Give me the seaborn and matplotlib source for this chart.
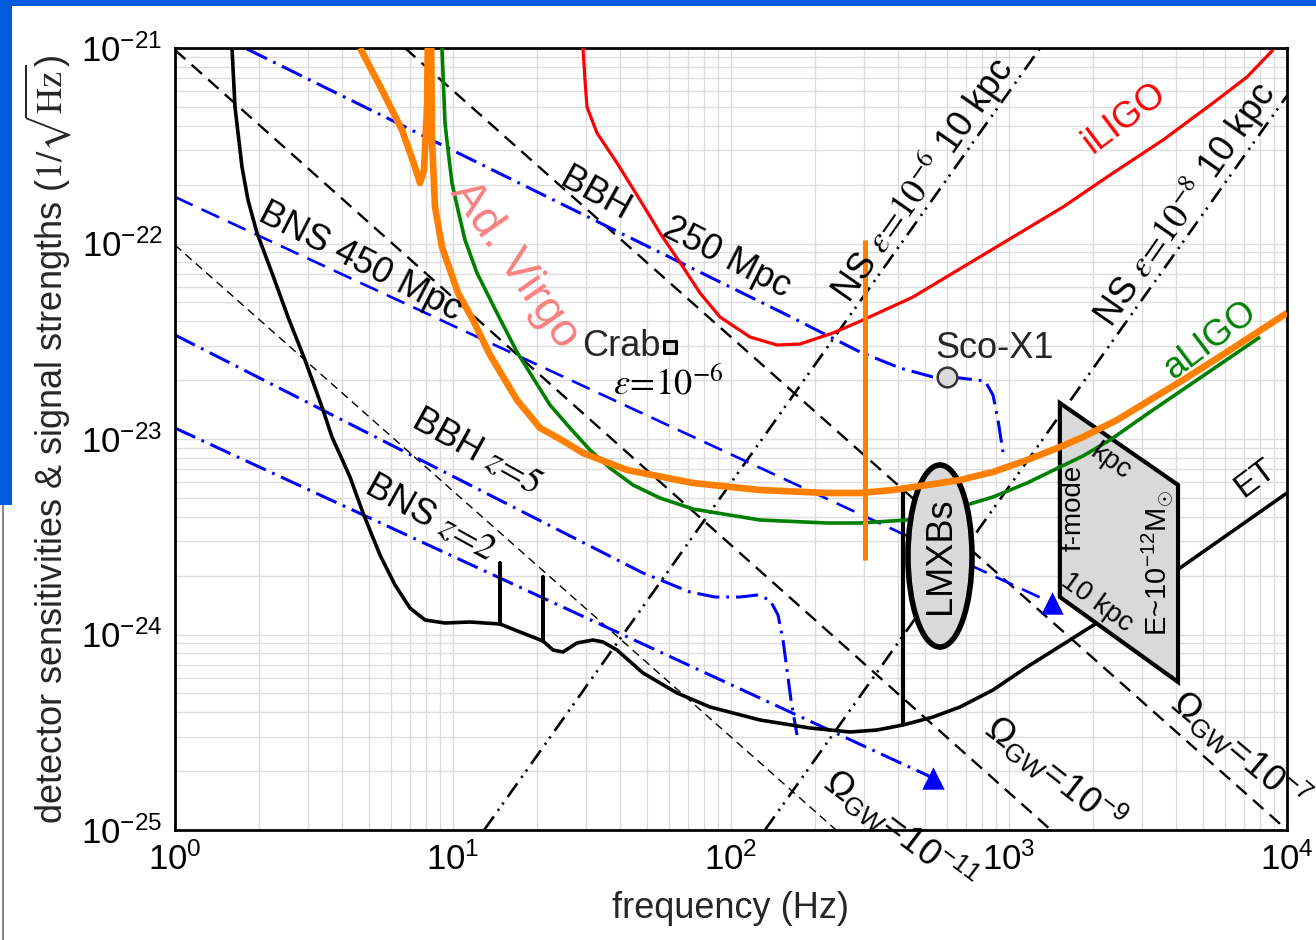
import numpy as np
import pandas as pd
import matplotlib
matplotlib.use("Agg")
import matplotlib.pyplot as plt
import seaborn as sns
from matplotlib.patches import Ellipse, Polygon, Rectangle
from matplotlib.ticker import FixedLocator, NullFormatter

# ---------------- data (log10 of frequency in Hz, log10 of strain) ----------------
et_logf = [0.2050, 0.2158, 0.2410, 0.2626, 0.2950, 0.3489, 0.4065, 0.4676, 0.5288, 0.5647,
           0.6295, 0.6763, 0.7374, 0.7914, 0.8453, 0.8993, 0.9712, 1.0612,
           1.1691, 1.1691, 1.1691, 1.2410, 1.3237, 1.3237, 1.3237, 1.3597, 1.3957, 1.4460,
           1.5036, 1.5396, 1.5899, 1.6835, 1.8058, 1.9245, 2.1043, 2.2842, 2.4281, 2.5252,
           2.6187, 2.7266, 2.8237, 2.9424, 3.0647, 3.2194, 3.3273, 3.6151, 4.0000]
et_logh = [-21.000, -21.3018, -21.6087, -21.7775, -21.9463, -22.1509, -22.3760, -22.5959,
           -22.8363, -22.9898, -23.1944, -23.3785, -23.5934, -23.7468, -23.8645, -23.9258,
           -23.9412, -23.9361, -23.9463, -23.6343, -23.9463, -23.9872, -24.0332, -23.7059,
           -24.0332, -24.0793, -24.0895, -24.0435, -24.0281, -24.0384, -24.0793, -24.1969,
           -24.2992, -24.3708, -24.4373, -24.4783, -24.4987, -24.4885, -24.4629, -24.4220,
           -24.3708, -24.2839, -24.1662, -24.0281, -23.9309, -23.6598, -23.2762]

iligo_logf = [1.4676, 1.4748, 1.4820, 1.5180, 1.5899, 1.6727, 1.7446, 1.8273, 1.8885, 1.9604,
              2.0683, 2.1655, 2.2482, 2.3669, 2.4748, 2.6547, 2.8345, 3.0144, 3.1942, 3.3741,
              3.5540, 3.7338, 3.8561, 3.9496]
iligo_logh = [-21.000, -21.1637, -21.3018, -21.4348, -21.5882, -21.7775, -21.9463, -22.1202,
              -22.2532, -22.3760, -22.4783, -22.5192, -22.5141, -22.4578, -22.3913, -22.2737,
              -22.1202, -21.9668, -21.8133, -21.6394, -21.4706, -21.2813, -21.1483, -21.0102]

aligo_logf = [0.9604, 0.9712, 0.9820, 0.9964, 1.0180, 1.0432, 1.0863, 1.1583, 1.2302, 1.3489,
              1.4209, 1.4928, 1.5647, 1.6475, 1.7446, 1.8633, 2.1043, 2.3453, 2.4640, 2.6331,
              2.8237, 2.9424, 3.0647, 3.1835, 3.2662, 3.3633, 3.5072, 3.6763, 3.9029]
aligo_logh = [-21.000, -21.3836, -21.5217, -21.6905, -21.8286, -21.9821, -22.1509, -22.3555,
              -22.5550, -22.8261, -22.9437, -23.0563, -23.1483, -23.2353, -23.3018, -23.3581,
              -23.4143, -23.4297, -23.4297, -23.4143, -23.3478, -23.2967, -23.2251, -23.1432,
              -23.0870, -23.0051, -22.8619, -22.6982, -22.4783]

virgo_logf = [0.6655, 0.7446, 0.8165, 0.8633, 0.8813, 0.8957, 0.9065, 0.9101, 0.9209, 0.9245,
              0.9353, 0.9604, 1.0180, 1.0719, 1.1331, 1.2302, 1.3129, 1.3849, 1.4676, 1.6259,
              1.8633, 2.1043, 2.3453, 2.4640, 2.5827, 2.7050, 2.8237, 2.9424, 3.0647, 3.1835,
              3.2662, 3.3885, 3.5072, 3.6259, 3.7950, 4.0000]
virgo_logh = [-21.000, -21.2148, -21.4194, -21.6087, -21.6905, -21.6240, -21.3018, -20.9079,
              -20.9079, -21.4706, -21.8133, -22.0179, -22.2532, -22.3913, -22.5703, -22.8005,
              -22.9437, -23.0000, -23.0716, -23.1586, -23.2251, -23.2609, -23.2762, -23.2762,
              -23.2609, -23.2353, -23.2097, -23.1688, -23.1074, -23.0409, -22.9898, -22.9028,
              -22.8005, -22.6982, -22.5448, -22.3555]
virgo_line_logf = [2.482, 2.482]
virgo_line_logh = [-21.982, -23.619]

lmxb_line_logf = [2.619, 2.619]
lmxb_line_logh = [-24.4629, -23.246]

# compact binary signals (blue)
bns450_logf = [0.000, 3.155]
bns450_logh = [-21.762, -23.839]
bbh250_logf = [0.2590, 2.2014, 2.4640, 2.6079, 2.7266, 2.8237, 2.9137, 2.9424, 2.9604, 2.9784]
bbh250_logh = [-21.0051, -22.3657, -22.5550, -22.6368, -22.6829, -22.6880, -22.7033, -22.7749,
               -22.9028, -23.0665]
bbhz5_logf = [0.000, 1.6835, 1.8525, 1.9424, 2.0324, 2.0935, 2.1403, 2.1691, 2.1871, 2.2014,
              2.2158, 2.2374]
bbhz5_logh = [-22.4680, -23.6854, -23.7826, -23.8082, -23.8082, -23.7980, -23.8235, -23.9003,
              -24.0281, -24.1816, -24.3350, -24.5141]
bnsz2_logf = [0.000, 2.727]
bnsz2_logh = [-22.944, -24.734]

# stochastic background lines (Omega_GW)
omega7_logf = [0.827, 4.000]
omega7_logh = [-21.000, -25.000]
omega9_logf = [0.000, 3.151]
omega9_logh = [-21.010, -25.000]
omega11_logf = [0.000, 2.378]
omega11_logh = [-22.008, -25.000]

# neutron stars at 10 kpc
ns6_logf = [1.112, 3.112]
ns6_logh = [-25.000, -21.000]
ns8_logf = [2.122, 4.000]
ns8_logh = [-25.000, -21.244]

# point sources
crab_logf, crab_logh = [1.781], [-22.529]
scox1_logf, scox1_logh = [2.777], [-22.683]
tri_logf = [3.155, 2.727]
tri_logh = [-23.839, -24.734]

# f-mode region
fmode_logf = [3.183, 3.183, 3.608, 3.608]
fmode_logh = [-22.816, -23.808, -24.243, -23.235]

xticks = [1e0, 1e1, 1e2, 1e3, 1e4]
yticks = [1e-25, 1e-24, 1e-23, 1e-22, 1e-21]

# ---------------- style ----------------
sns.set_style("white")
plt.rcParams['font.family'] = ['Liberation Sans', 'DejaVu Sans']
plt.rcParams['mathtext.fontset'] = 'custom'
plt.rcParams['mathtext.rm'] = 'Liberation Sans'
plt.rcParams['mathtext.it'] = 'Liberation Sans:italic'
plt.rcParams['mathtext.bf'] = 'Liberation Sans:bold'
plt.rcParams['mathtext.sf'] = 'Liberation Sans'
plt.rcParams['lines.scale_dashes'] = False
plt.rcParams['axes.unicode_minus'] = False

fig = plt.figure(figsize=(13.16, 9.40), dpi=100)
ax = fig.add_axes([175/1316, 110/940, 1112/1316, 782/940])
ax.set_xscale('log')
ax.set_yscale('log')
ax.set_xlim(1, 1e4)
ax.set_ylim(1e-25, 1e-21)

def P(xp, yp):
    """reference-pixel position -> data position (for label placement only)"""
    return 10 ** ((xp - 175) / 278), 10 ** (-21 - (yp - 48) / 195.5)

def curve(lf, lh, color, lw, ls='-', z=2):
    d = pd.DataFrame({'f': np.power(10.0, lf), 'h': np.power(10.0, lh)})
    sns.lineplot(data=d, x='f', y='h', ax=ax, sort=False, estimator=None,
                 color=color, linewidth=lw, linestyle=ls, zorder=z,
                 solid_joinstyle='round', solid_capstyle='butt')

BLUE = '#0000ff'
DASHDOT = (0, (16, 5, 2, 5))
DDOT = (0, (12, 5, 1.6, 4, 1.6, 5))

curve(omega9_logf, omega9_logh, 'black', 1.7, (0, (10, 6)), 2)
curve(omega7_logf, omega7_logh, 'black', 1.7, (0, (10, 6)), 2)
curve(omega11_logf, omega11_logh, 'black', 1.0, (0, (6, 4)), 2)
curve(ns6_logf, ns6_logh, 'black', 1.9, DDOT, 2)
curve(ns8_logf, ns8_logh, 'black', 1.9, DDOT, 2)

curve(bns450_logf, bns450_logh, BLUE, 1.9, (0, (14, 7)), 2.2)
curve(bbh250_logf, bbh250_logh, BLUE, 2.2, DASHDOT, 2.2)
curve(bbhz5_logf, bbhz5_logh, BLUE, 2.2, DASHDOT, 2.2)
curve(bnsz2_logf, bnsz2_logh, BLUE, 2.2, DASHDOT, 2.2)

curve(et_logf, et_logh, 'black', 2.6, '-', 2.4)
curve(lmxb_line_logf, lmxb_line_logh, 'black', 3.0, '-', 2.4)
curve(iligo_logf, iligo_logh, '#ff0000', 2.3, '-', 3)

ax.add_patch(Polygon(np.column_stack([np.power(10.0, fmode_logf), np.power(10.0, fmode_logh)]),
                     closed=True, facecolor='#d9d9d9', edgecolor='black', lw=3, zorder=2.6))
curve(aligo_logf, aligo_logh, '#008000', 2.6, '-', 3)
ax.add_patch(Ellipse(((940 - 175) / 1112, (830 - 556) / 782), 64 / 1112, 182 / 782,
                     transform=ax.transAxes, facecolor='#d9d9d9', edgecolor='black',
                     lw=4, zorder=3.5))
curve(virgo_logf, virgo_logh, '#ff8000', 4.8, '-', 4)
curve(virgo_line_logf, virgo_line_logh, '#ff8000', 3.6, '-', 4)

sns.scatterplot(x=np.power(10.0, tri_logf), y=np.power(10.0, tri_logh), ax=ax, marker='^',
                s=260, color=BLUE, edgecolor=BLUE, linewidth=0, zorder=5)
sns.scatterplot(x=np.power(10.0, crab_logf), y=np.power(10.0, crab_logh), ax=ax, marker='s',
                s=70, color='#d9d9d9', edgecolor='black', linewidth=2.2, zorder=5)
sns.scatterplot(x=np.power(10.0, scox1_logf), y=np.power(10.0, scox1_logh), ax=ax, marker='o',
                s=200, color='#d9d9d9', edgecolor='#333333', linewidth=1.8, zorder=5)

# ---------------- axes ----------------
ax.xaxis.set_major_locator(FixedLocator(xticks))
ax.yaxis.set_major_locator(FixedLocator(yticks))
ax.xaxis.set_minor_locator(FixedLocator([m * d for d in xticks[:-1] for m in range(2, 10)]))
ax.yaxis.set_minor_locator(FixedLocator([m * d for d in yticks[:-1] for m in range(2, 10)]))
ax.xaxis.set_minor_formatter(NullFormatter())
ax.yaxis.set_minor_formatter(NullFormatter())
ax.set_xticklabels([r'$\mathdefault{10^{%d}}$' % int(round(np.log10(v))) for v in xticks])
ax.set_yticklabels([r'$\mathdefault{10^{%d}}$' % int(round(np.log10(v))) for v in yticks])
ax.grid(True, which='both', color='#dcdcdc', lw=1.0)
ax.set_axisbelow(True)
ax.tick_params(which='both', length=0, labelsize=25, pad=9, colors='black')
for s in ax.spines.values():
    s.set_color('black')
    s.set_linewidth(2)
ax.set_xlabel('frequency (Hz)', fontsize=26, labelpad=10)
ax.set_ylabel(r'detector sensitivities & signal strengths ($1/\sqrt{\mathrm{Hz}}$)', fontsize=26,
              labelpad=6, math_fontfamily='stix')

# ---------------- labels ----------------
def lab(xp, yp, s, rot=0, size=26, color='black', clip=False, mf=None, **kw):
    x, y = P(xp, yp)
    t = ax.text(x, y, s, rotation=rot, fontsize=size, color=color, ha='center', va='center',
                rotation_mode='anchor', zorder=6, clip_on=clip, **kw)
    if mf:
        t.set_math_fontfamily(mf)
    return t

lab(360, 262, 'BNS 450 Mpc', -27)
lab(595, 195, 'BBH', -29)
lab(727, 258, '250 Mpc', -27)
lab(476, 452, r'BBH $z\!=\!5$', -29, mf='stix')
lab(430, 518, r'BNS $z\!=\!2$', -29, mf='stix')
lab(515, 265, 'Ad. Virgo', -55, size=34, color='#f88080')
x, y = P(661, 347)
ax.text(x, y, 'Crab', fontsize=26, ha='right', va='center', zorder=6)
lab(668, 384, r'$\varepsilon\!=\!10^{-6}$', 0, size=26, mf='stix')
x, y = P(935, 349)
ax.text(x, y, 'Sco-X1', fontsize=26, ha='left', va='center', zorder=6)
lab(1125, 118, 'iLIGO', 37, color='#ff0000')
lab(1210, 340, 'aLIGO', 37, color='#008000')
lab(922, 180, r'NS $\varepsilon\!=\!10^{-6}$ 10 kpc', 55, mf='stix')
lab(1185, 205, r'NS $\varepsilon\!=\!10^{-8}$ 10 kpc', 55, mf='stix')
lab(940, 556, 'LMXBs', 90, size=26)
lab(1074, 508, 'f-mode', 90, size=20)
lab(1110, 462, 'kpc', -35, size=20)
lab(1097, 603, '10 kpc', -36, size=20)
lab(1158, 563, r'E~$10^{-12}$M$_{\odot}$', 90, size=21)
lab(1255, 478, 'ET', 37, size=24)
lab(900, 830, r'$\Omega_{\mathrm{GW}}\!=\!10^{-11}$', -37, size=26)
lab(1055, 773, r'$\Omega_{\mathrm{GW}}\!=\!10^{-9}$', -38, size=26)
lab(1240, 750, r'$\Omega_{\mathrm{GW}}\!=\!10^{-7}$', -40, size=26)

# ---------------- slide decorations ----------------
fig.patches.append(Rectangle((0, 1 - 6 / 940), 1, 6 / 940, transform=fig.transFigure,
                             facecolor='#005adc', edgecolor='none', zorder=0))
fig.patches.append(Rectangle((0, (940 - 505) / 940), 12 / 1316, 505 / 940, transform=fig.transFigure,
                             facecolor='#005adc', edgecolor='none', zorder=0))
fig.patches.append(Rectangle((2 / 1316, 0), 2 / 1316, (940 - 505) / 940, transform=fig.transFigure,
                             facecolor='#888888', edgecolor='none', zorder=0))

fig.savefig('out.png', dpi=100)
